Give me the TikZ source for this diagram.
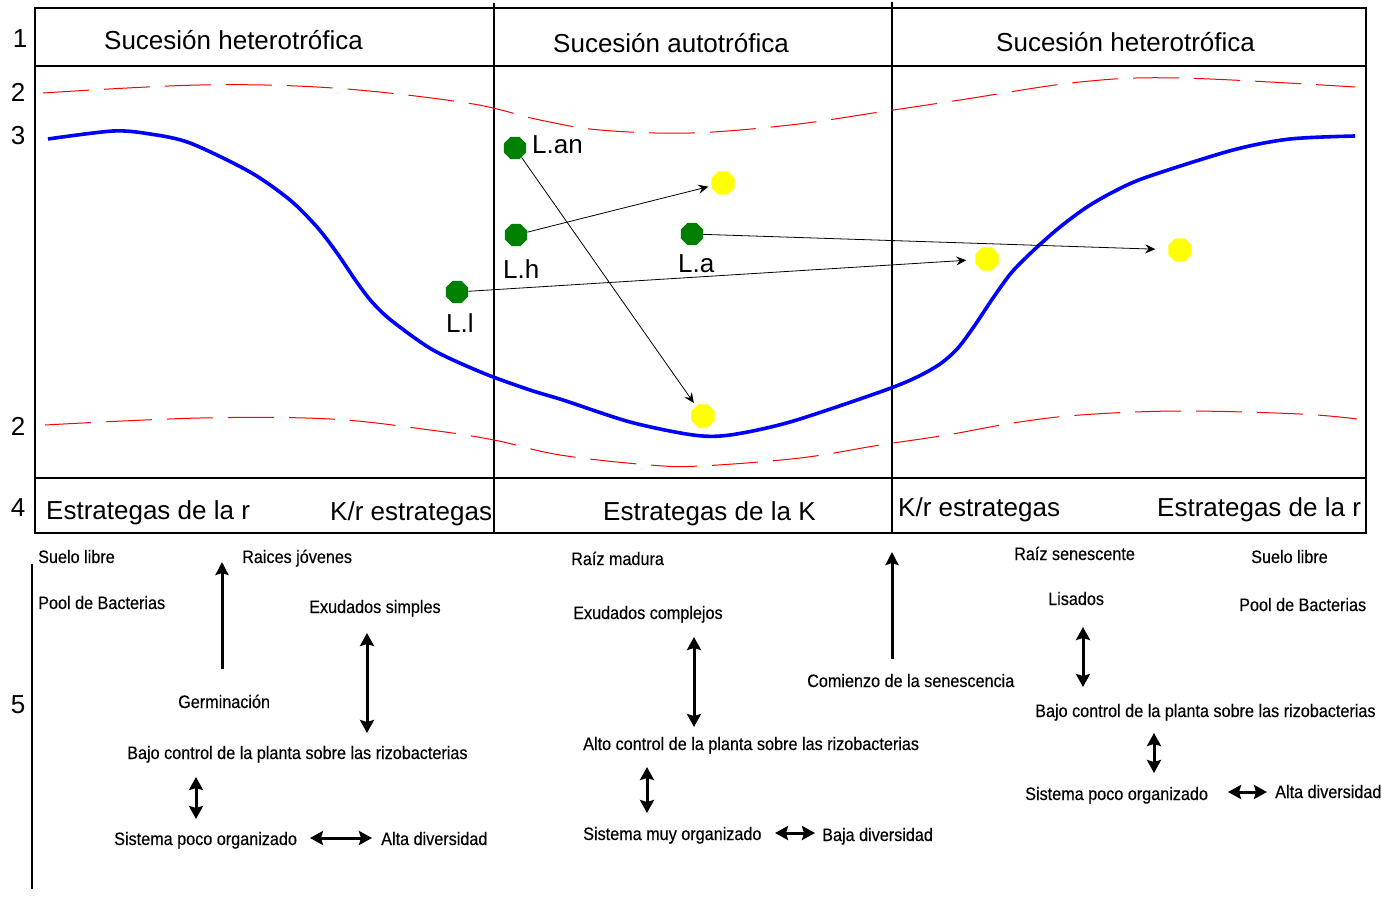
\documentclass[tikz,border=0pt]{standalone}
\usepackage{fontspec}
\setmainfont{Liberation Sans}
\newfontfamily\narrowf[FakeStretch=0.9,FakeBold=0.3]{Liberation Sans}
\usetikzlibrary{arrows.meta,shapes.geometric}
\definecolor{dgreen}{RGB}{0,128,0}
\definecolor{dyellow}{RGB}{255,255,0}
\begin{document}
\begin{tikzpicture}[x=1pt,y=-1pt,
  big/.style={font=\fontsize{26}{30}\selectfont, inner sep=0pt, anchor=base west},
  num/.style={font=\fontsize{26}{30}\selectfont, inner sep=0pt, anchor=base},
  small/.style={font=\narrowf\fontsize{18}{21}\selectfont, inner sep=0pt, anchor=base west},
  frame/.style={line width=1.2pt, black},
  gdot/.style={regular polygon, regular polygon sides=8, minimum size=24pt, inner sep=0pt, fill=dgreen},
  ydot/.style={regular polygon, regular polygon sides=8, minimum size=25pt, inner sep=0pt, fill=dyellow},
  thin arrow/.style={line width=0.8pt, -{Stealth[length=10pt,width=9pt,inset=3.5pt]}},
  thick arrow/.style={line width=3pt, -{Stealth[length=13pt,width=13pt,inset=2pt]}},
  thick double/.style={line width=3pt, {Stealth[length=13pt,width=14pt,inset=2pt]}-{Stealth[length=13pt,width=14pt,inset=2pt]}},
  redline/.style={red, line width=1pt, dash pattern=on 46pt off 15pt},
  blueline/.style={blue, line width=3.6pt}
]
\useasboundingbox (0,0) rectangle (1382,899);
\fill[white] (0,0) rectangle (1382,899);

% frame
\draw[frame] (35,8) rectangle (1366,533);
\draw[frame] (35,66) -- (1366,66);
\draw[frame] (35,478) -- (1366,478);
\draw[frame] (494,3) -- (494,533);
\draw[frame] (892,2) -- (892,533);

% row numbers
\node[num] (n1) at (20,48) {1};
\node[num] (n2a) at (18,101) {2};
\node[num] (n3) at (18,144) {3};
\node[num] (n2b) at (18,435) {2};
\node[num] (n4) at (18,516) {4};
\node[num] (n5) at (18,713) {5};

% headers
\node[big] (h1) at (104,50) {Sucesión heterotrófica};
\node[big] (h2) at (553,53) {Sucesión autotrófica};
\node[big] (h3) at (996,52) {Sucesión heterotrófica};

% row 4
\node[big] (s1) at (46,519) {Estrategas de la r};
\node[big] (s2) at (330,520) {K/r estrategas};
\node[big] (s3) at (603,520) {Estrategas de la K};
\node[big] (s4) at (898,516) {K/r estrategas};
\node[big] (s5) at (1157,516) {Estrategas de la r};

% red dashed curves
\draw[redline] plot[smooth, tension=0.6] coordinates {(43,93) (200,85) (333,88) (467,103) (540,120) (600,130) (690,133) (790,125) (880,112) (960,100) (1080,82) (1180,78) (1355,87)};
\draw[redline] plot[smooth, tension=0.6] coordinates {(45,425) (200,418) (330,419) (430,430) (494,440) (560,455) (650,465) (700,466) (800,458) (880,445) (947,435) (1013,423) (1080,415) (1180,411) (1300,414) (1357,419)};

% blue curve
\draw[blueline] plot[smooth, tension=0.5] coordinates {(48,139) (113,131) (150,134) (190,143) (250,172) (290,200) (317,227) (337,253) (356,281) (372,302) (392,321) (433,350) (483,373) (530,390) (563,400) (630,422) (693,435) (730,435) (790,422) (880,392) (915,378) (940,364) (958,348) (975,325) (993,298) (1012,272) (1035,249) (1060,227) (1087,207) (1115,191) (1147,177) (1233,150) (1290,139) (1355,136)};

% dots
\node[gdot] (lan) at (515,148) {};
\node[gdot] (lh) at (516,235) {};
\node[gdot] (ll) at (457,292) {};
\node[gdot] (la) at (692,234) {};
\node[ydot] (y1) at (723,183) {};
\node[ydot] (y2) at (703,416) {};
\node[ydot] (y3) at (987,259) {};
\node[ydot] (y4) at (1180,250) {};

\node[big] (tlan) at (532,153) {L.an};
\node[big] (tlh) at (503,278) {L.h};
\node[big] (tla) at (678,272) {L.a};
\node[big] (tll) at (446,332) {L.l};

\draw[thin arrow, shorten >=4pt] (lan) -- (y2);
\draw[thin arrow, shorten >=3pt] (lh) -- (y1);
\draw[thin arrow, shorten >=9pt] (ll) -- (y3);
\draw[thin arrow, shorten >=13pt] (la) -- (y4);

% section 5 bar
\draw[line width=2pt] (32,564) -- (32,889);

% left column texts
\node[small] (a1) at (38,563) {Suelo libre};
\node[small] (a2) at (242,563) {Raices jóvenes};
\node[small] (a3) at (38,609) {Pool de Bacterias};
\node[small] (a4) at (309,613) {Exudados simples};
\node[small] (a5) at (178,708) {Germinación};
\node[small] (a6) at (127,759) {Bajo control de la planta sobre las rizobacterias};
\node[small] (a7) at (114,845) {Sistema poco organizado};
\node[small] (a8) at (381,845) {Alta diversidad};

\coordinate (a9s) at (222,669);
\coordinate (a9e) at (222,562);
\draw[thick arrow] (a9s) -- (a9e);
\coordinate (a10s) at (367,633);
\coordinate (a10e) at (367,733);
\draw[thick double] (a10s) -- (a10e);
\coordinate (a11s) at (196,777);
\coordinate (a11e) at (196,819);
\draw[thick double] (a11s) -- (a11e);
\coordinate (a12s) at (310,838);
\coordinate (a12e) at (372,838);
\draw[thick double] (a12s) -- (a12e);

% middle column texts
\node[small] (b1) at (571,565) {Raíz madura};
\node[small] (b2) at (573,619) {Exudados complejos};
\node[small] (b3) at (583,750) {Alto control de la planta sobre las rizobacterias};
\node[small] (b4) at (583,840) {Sistema muy organizado};
\node[small] (b5) at (822,841) {Baja diversidad};
\node[small] (b6) at (807,687) {Comienzo de la senescencia};

\coordinate (b7s) at (694,637);
\coordinate (b7e) at (694,727);
\draw[thick double] (b7s) -- (b7e);
\coordinate (b8s) at (647,767);
\coordinate (b8e) at (647,813);
\draw[thick double] (b8s) -- (b8e);
\coordinate (b9s) at (775,833);
\coordinate (b9e) at (815,833);
\draw[thick double] (b9s) -- (b9e);
\coordinate (b10s) at (892,659);
\coordinate (b10e) at (892,552);
\draw[thick arrow] (b10s) -- (b10e);

% right column texts
\node[small] (c1) at (1014,560) {Raíz senescente};
\node[small] (c2) at (1251,563) {Suelo libre};
\node[small] (c3) at (1048,605) {Lisados};
\node[small] (c4) at (1239,611) {Pool de Bacterias};
\node[small] (c5) at (1035,717) {Bajo control de la planta sobre las rizobacterias};
\node[small] (c6) at (1025,800) {Sistema poco organizado};
\node[small] (c7) at (1275,798) {Alta diversidad};

\coordinate (c8s) at (1083,627);
\coordinate (c8e) at (1083,687);
\draw[thick double] (c8s) -- (c8e);
\coordinate (c9s) at (1154,733);
\coordinate (c9e) at (1154,773);
\draw[thick double] (c9s) -- (c9e);
\coordinate (c10s) at (1228,792);
\coordinate (c10e) at (1267,792);
\draw[thick double] (c10s) -- (c10e);
\end{tikzpicture}
\end{document}
